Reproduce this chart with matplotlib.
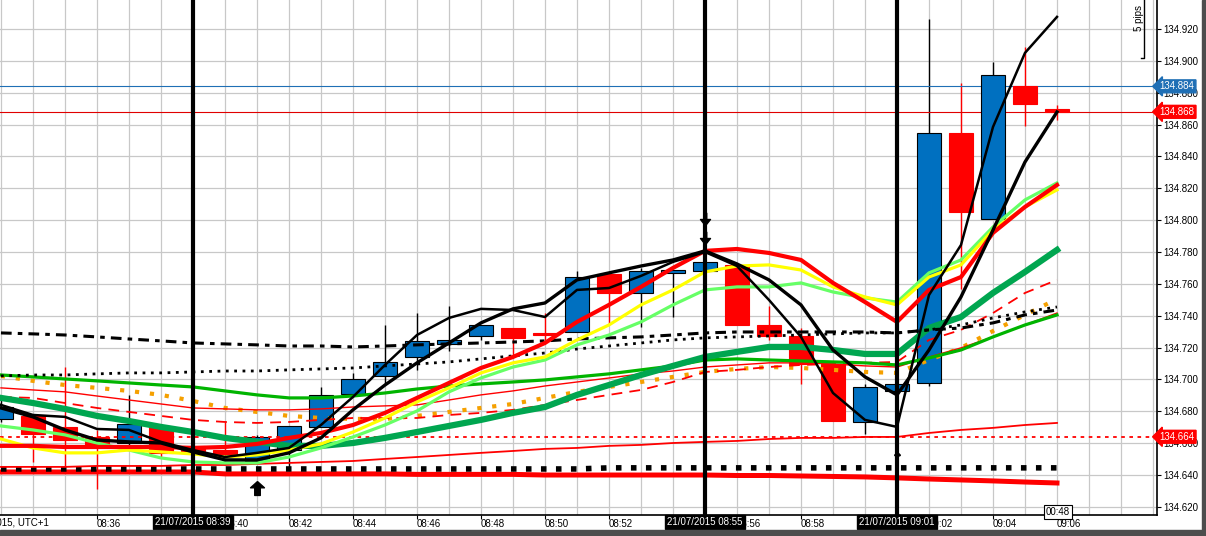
import numpy as np
import matplotlib.pyplot as plt
from matplotlib.patches import Rectangle
import matplotlib.transforms as mtransforms

plt.rcParams['font.family'] = ['Liberation Sans', 'DejaVu Sans']

# minute of the hour (08:33 .. 09:06), one candle per minute
minutes = np.arange(33, 67)

# candles
opens = [134.675, 134.677, 134.670, 134.664, 134.660, 134.670, 134.658, 134.656, 134.649, 134.656,
         134.670, 134.691, 134.702, 134.714, 134.722, 134.727, 134.732, 134.729, 134.730, 134.766,
         134.754, 134.767, 134.768, 134.772, 134.734, 134.727, 134.710, 134.673, 134.693, 134.698,
         134.855, 134.801, 134.884, 134.870]
highs = [134.687, 134.678, 134.708, 134.668, 134.690, 134.671, 134.662, 134.673, 134.665, 134.671,
         134.695, 134.704, 134.734, 134.742, 134.746, 134.734, 134.732, 134.742, 134.768, 134.766,
         134.770, 134.769, 134.776, 134.773, 134.746, 134.732, 134.710, 134.697, 134.698, 134.926,
         134.886, 134.899, 134.909, 134.872]
lows = [134.673, 134.648, 134.645, 134.631, 134.659, 134.651, 134.651, 134.652, 134.648, 134.645,
        134.670, 134.691, 134.697, 134.706, 134.718, 134.725, 134.715, 134.725, 134.730, 134.735,
        134.733, 134.739, 134.767, 134.734, 134.725, 134.697, 134.674, 134.666, 134.684, 134.696,
        134.757, 134.801, 134.859, 134.863]
closes = [134.683, 134.666, 134.662, 134.658, 134.672, 134.654, 134.655, 134.653, 134.664, 134.671,
          134.690, 134.700, 134.711, 134.724, 134.725, 134.734, 134.726, 134.728, 134.764, 134.754,
          134.768, 134.769, 134.774, 134.734, 134.727, 134.710, 134.674, 134.695, 134.697, 134.855,
          134.805, 134.891, 134.873, 134.868]

# indicator lines
fast_black = [134.6840, 134.6777, 134.6765, 134.6689, 134.6683, 134.6608, 134.6557, 134.6513, 134.6539, 134.6570,
              134.6714, 134.6890, 134.7091, 134.7279, 134.7386, 134.7443, 134.7436, 134.7392, 134.7562, 134.7574,
              134.7650, 134.7738, 134.7800, 134.7712, 134.7499, 134.7267, 134.6915, 134.6746, 134.6702, 134.7530,
              134.7844, 134.8585, 134.9050, 134.9276]
slow_black = [134.6821, 134.6765, 134.6683, 134.6620, 134.6608, 134.6601, 134.6545, 134.6495, 134.6495, 134.6539,
              134.6633, 134.6809, 134.6965, 134.7104, 134.7229, 134.7355, 134.7443, 134.7480, 134.7625, 134.7669,
              134.7712, 134.7750, 134.7807, 134.7725, 134.7625, 134.7468, 134.7185, 134.7016, 134.6903, 134.7185,
              134.7518, 134.7938, 134.8365, 134.8679]
red_ema = [134.6583, 134.6583, 134.6576, 134.6576, 134.6576, 134.6576, 134.6570, 134.6576, 134.6595, 134.6633,
           134.6664, 134.6714, 134.6790, 134.6884, 134.6978, 134.7072, 134.7141, 134.7229, 134.7361, 134.7468,
           134.7581, 134.7700, 134.7807, 134.7819, 134.7794, 134.7750, 134.7606, 134.7486, 134.7361, 134.7562,
           134.7643, 134.7920, 134.8083, 134.8221]
yellow_ma = [134.6626, 134.6570, 134.6539, 134.6539, 134.6557, 134.6545, 134.6532, 134.6513, 134.6526, 134.6557,
             134.6595, 134.6670, 134.6758, 134.6859, 134.6947, 134.7041, 134.7104, 134.7141, 134.7248, 134.7342,
             134.7468, 134.7562, 134.7675, 134.7712, 134.7719, 134.7687, 134.7581, 134.7518, 134.7468, 134.7643,
             134.7719, 134.7938, 134.8083, 134.8190]
lime_ma = [134.6708, 134.6683, 134.6652, 134.6601, 134.6557, 134.6507, 134.6482, 134.6476, 134.6476, 134.6513,
           134.6570, 134.6639, 134.6714, 134.6802, 134.6922, 134.7009, 134.7078, 134.7122, 134.7217, 134.7279,
           134.7361, 134.7468, 134.7562, 134.7581, 134.7581, 134.7606, 134.7549, 134.7512, 134.7486, 134.7669,
           134.7750, 134.7957, 134.8127, 134.8234]
dark_green = [134.6884, 134.6852, 134.6815, 134.6771, 134.6739, 134.6702, 134.6670, 134.6633, 134.6608, 134.6583,
              134.6583, 134.6601, 134.6633, 134.6670, 134.6708, 134.6746, 134.6790, 134.6827, 134.6903, 134.6965,
              134.7028, 134.7085, 134.7141, 134.7173, 134.7204, 134.7204, 134.7185, 134.7160, 134.7160, 134.7323,
              134.7392, 134.7543, 134.7675, 134.7813]
mid_green = [134.7028, 134.7016, 134.7003, 134.6991, 134.6978, 134.6965, 134.6953, 134.6928, 134.6903, 134.6884,
             134.6884, 134.6896, 134.6915, 134.6940, 134.6959, 134.6972, 134.6984, 134.6997, 134.7016, 134.7035,
             134.7060, 134.7085, 134.7122, 134.7129, 134.7122, 134.7116, 134.7110, 134.7104, 134.7091, 134.7135,
             134.7185, 134.7267, 134.7342, 134.7405]
orange_ma = [134.7022, 134.6991, 134.6965, 134.6947, 134.6928, 134.6903, 134.6865, 134.6821, 134.6796, 134.6771,
             134.6758, 134.6752, 134.6752, 134.6771, 134.6796, 134.6821, 134.6846, 134.6884, 134.6922, 134.6953,
             134.6984, 134.7016, 134.7047, 134.7066, 134.7078, 134.7072, 134.7060, 134.7047, 134.7041, 134.7122,
             134.7198, 134.7304, 134.7405, 134.7505]
red_thin = [134.6947, 134.6934, 134.6922, 134.6896, 134.6871, 134.6846, 134.6821, 134.6815, 134.6809, 134.6809,
            134.6815, 134.6827, 134.6834, 134.6840, 134.6871, 134.6903, 134.6928, 134.6959, 134.6984, 134.7009,
            134.7035, 134.7053, 134.7078, 134.7091, 134.7104, 134.7104, 134.7097, 134.7085, 134.7078, 134.7141,
            134.7198, 134.7267, 134.7342, 134.7417]
red_dashed = [134.6890, 134.6884, 134.6852, 134.6821, 134.6796, 134.6771, 134.6746, 134.6733, 134.6727, 134.6733,
              134.6746, 134.6758, 134.6758, 134.6758, 134.6777, 134.6790, 134.6809, 134.6840, 134.6871, 134.6903,
              134.6934, 134.6984, 134.7047, 134.7060, 134.7078, 134.7091, 134.7097, 134.7104, 134.7110, 134.7248,
              134.7311, 134.7417, 134.7543, 134.7625]
black_dashdot = [134.7292, 134.7286, 134.7279, 134.7267, 134.7254, 134.7242, 134.7229, 134.7223, 134.7217, 134.7210,
                 134.7210, 134.7204, 134.7210, 134.7217, 134.7223, 134.7229, 134.7235, 134.7242, 134.7254, 134.7261,
                 134.7267, 134.7279, 134.7292, 134.7298, 134.7298, 134.7298, 134.7298, 134.7298, 134.7292, 134.7311,
                 134.7323, 134.7355, 134.7405, 134.7436]
black_dotted = [134.7022, 134.7028, 134.7028, 134.7035, 134.7041, 134.7041, 134.7047, 134.7053, 134.7053, 134.7060,
                134.7066, 134.7072, 134.7085, 134.7097, 134.7110, 134.7129, 134.7148, 134.7166, 134.7191, 134.7210,
                134.7229, 134.7248, 134.7261, 134.7267, 134.7273, 134.7279, 134.7286, 134.7292, 134.7292, 134.7311,
                134.7342, 134.7386, 134.7424, 134.7455]
red_low = [134.6451, 134.6451, 134.6451, 134.6457, 134.6457, 134.6457, 134.6463, 134.6463, 134.6470, 134.6476,
           134.6482, 134.6488, 134.6501, 134.6513, 134.6526, 134.6539, 134.6551, 134.6564, 134.6570, 134.6583,
           134.6589, 134.6601, 134.6608, 134.6614, 134.6626, 134.6633, 134.6633, 134.6639, 134.6639, 134.6664,
           134.6683, 134.6696, 134.6714, 134.6727]
black_bottom = [134.6438, 134.6438, 134.6438, 134.6438, 134.6438, 134.6438, 134.6438, 134.6438, 134.6438, 134.6438,
                134.6438, 134.6438, 134.6438, 134.6438, 134.6438, 134.6438, 134.6438, 134.6438, 134.6438, 134.6445,
                134.6445, 134.6445, 134.6445, 134.6445, 134.6445, 134.6445, 134.6445, 134.6445, 134.6445, 134.6445,
                134.6445, 134.6445, 134.6445, 134.6445]
red_bottom = [134.6419, 134.6419, 134.6419, 134.6419, 134.6419, 134.6419, 134.6419, 134.6407, 134.6407, 134.6407,
              134.6407, 134.6407, 134.6407, 134.6404, 134.6404, 134.6404, 134.6404, 134.6400, 134.6400, 134.6400,
              134.6400, 134.6400, 134.6400, 134.6397, 134.6397, 134.6394, 134.6391, 134.6388, 134.6382, 134.6375,
              134.6369, 134.6363, 134.6356, 134.6350]

# price levels and markers
ask_price = 134.884
bid_price = 134.868
level_price = 134.664
vline_times = [39, 55, 61]
vline_labels = ['21/07/2015 08:39', '21/07/2015 08:55', '21/07/2015 09:01']
sell_times = [55, 55]
sell_prices = [134.801, 134.789]
buy_times = [41]
buy_prices = [134.632]
small_buy_times = [61]
small_buy_prices = [134.651]
tick_minutes = np.arange(36, 67, 2)
tick_labels = ['08:%02d' % m if m < 60 else '09:%02d' % (m - 60) for m in tick_minutes]
price_ticks = [134.62, 134.64, 134.66, 134.68, 134.70, 134.72, 134.74, 134.76, 134.78, 134.80,
               134.82, 134.84, 134.86, 134.88, 134.90, 134.92]

opens, highs, lows, closes = map(np.array, (opens, highs, lows, closes))

fig = plt.figure(figsize=(12.06, 5.36), dpi=100)
ax = fig.add_axes([0, 21 / 536, 1157 / 1206, 515 / 536])
ax.set_xlim(32.97, 69.125)
ax.set_ylim(134.6149, 134.9382)

# grid
ax.set_axisbelow(True)
ax.set_xticks(np.arange(33, 70), minor=True)
ax.set_xticks(tick_minutes)
ax.set_xticklabels(tick_labels)
for lbl in ax.get_xticklabels():
    lbl.set_ha('left')
ax.set_yticks(price_ticks)
ax.set_yticklabels(['%.3f' % p for p in price_ticks])
ax.yaxis.tick_right()
ax.grid(which='both', color='#c8c8c8', lw=0.9)
ax.tick_params(axis='x', which='major', length=3, pad=0, labelsize=7)
ax.tick_params(axis='x', which='minor', length=0)
ax.tick_params(axis='y', length=3, pad=1.5, labelsize=7)
for s in ['left', 'top']:
    ax.spines[s].set_visible(False)
ax.spines['right'].set_linewidth(1.2)
ax.spines['bottom'].set_linewidth(1.2)

# candles
up = closes >= opens
body_col = np.where(up, '#0070c0', '#ff0000')
edge_col = np.where(up, 'black', '#ff0000')
ax.vlines(minutes, lows, highs, colors=np.where(up, 'black', '#ff0000'), lw=1, zorder=2)
ax.bar(minutes, np.maximum(np.abs(closes - opens), 0.0006), bottom=np.minimum(opens, closes),
       width=0.75, color=body_col, edgecolor=edge_col, linewidth=0.8, zorder=3)

# price lines
ax.axhline(ask_price, color='#1f6fb5', lw=0.8, zorder=2)
ax.axhline(bid_price, color='#e00000', lw=0.8, zorder=2)
ax.axhline(level_price, color='#ff0000', lw=1.3, ls=(0, (2, 2.5)), zorder=4)

# indicators
ax.plot(minutes, red_bottom, color='#ff0000', lw=3.6, zorder=4)
ax.plot(minutes, black_bottom, color='black', lw=4, ls=(0, (1, 1.7)), zorder=4)
ax.plot(minutes, red_low, color='#ff0000', lw=1.3, zorder=4)
ax.plot(minutes, orange_ma, color='#f5a000', lw=3, ls=(0, (1, 2.6)), zorder=4)
ax.plot(minutes, red_dashed, color='#ff0000', lw=1.3, ls=(0, (6, 4)), zorder=4)
ax.plot(minutes, red_thin, color='#ff0000', lw=1.0, zorder=4)
ax.plot(minutes, mid_green, color='#00b400', lw=2.3, zorder=4)
ax.plot(minutes, dark_green, color='#00a650', lw=4.5, zorder=4)
ax.plot(minutes, black_dotted, color='black', lw=2.0, ls=(0, (1, 2)), zorder=4)
ax.plot(minutes, black_dashdot, color='black', lw=2.2, ls=(0, (3.5, 2, 1.5, 2)), zorder=4)
ax.plot(minutes, lime_ma, color='#66ff66', lw=2.3, zorder=5)
ax.plot(minutes, yellow_ma, color='#ffff00', lw=2.3, zorder=5)
ax.plot(minutes, red_ema, color='#ff0000', lw=3.0, zorder=5)
ax.plot(minutes, slow_black, color='black', lw=2.4, zorder=6)
ax.plot(minutes, fast_black, color='black', lw=1.8, zorder=6)

for t in vline_times:
    ax.axvline(t, color='black', lw=3, zorder=8)

# signal arrows
up_arrow = [(0, 1), (-1, 0.1), (-0.4, 0.1), (-0.4, -1), (0.4, -1), (0.4, 0.1), (1, 0.1), (0, 1)]
down_arrow = [(0, -1), (-0.8, 0), (-0.2, 0), (-0.2, 1), (0.2, 1), (0.2, 0), (0.8, 0), (0, -1)]
ax.plot(buy_times, buy_prices, ls='none', marker=up_arrow, ms=10, color='black', zorder=9)
ax.plot(sell_times, sell_prices, ls='none', marker=down_arrow, ms=9, color='black', zorder=9)
ax.plot(small_buy_times, small_buy_prices, ls='none', marker=r'$\uparrow$', ms=7, color='black', zorder=9)

# labels below the axis
xt = mtransforms.blended_transform_factory(ax.transData, ax.transAxes)
for t, lab in zip(vline_times, vline_labels):
    ax.text(t, -0.0136, lab, transform=xt, ha='center', va='center', fontsize=7, color='white',
            bbox=dict(boxstyle='square,pad=0.25', fc='black', ec='black'), clip_on=False, zorder=10)
ax.text(34.5, -0.0136, '21/07/2015, UTC+1', transform=xt, ha='right', va='center', fontsize=7,
        clip_on=False)
ax.text(66.03, 0.006, '00:48', transform=xt, ha='center', va='center', fontsize=7,
        bbox=dict(boxstyle='square,pad=0.2', fc='white', ec='black', lw=0.8), clip_on=False, zorder=10)

# price tags on the right axis
yt = mtransforms.blended_transform_factory(ax.transAxes, ax.transData)
for p, c in [(ask_price, '#1f6fb5'), (bid_price, '#ff0000'), (level_price, '#ff0000')]:
    ax.text(1.0173, p, '%.3f' % p, transform=yt, ha='center', va='center', fontsize=7, color='white',
            bbox=dict(boxstyle='larrow,pad=0.15', fc=c, ec=c), clip_on=False, zorder=10)
ax.text(1.004, 134.940, '134.940', transform=yt, ha='left', va='center', fontsize=7, clip_on=False)

# pips ruler
ax.plot([0.9888, 0.9888, 0.9862], [1.0, 0.8874, 0.8874], transform=ax.transAxes, color='black',
        lw=1, clip_on=False, zorder=9)
ax.text(0.9845, 0.965, '5 pips', transform=ax.transAxes, rotation=90, ha='center', va='center',
        fontsize=7)

# dark frame strips
fig.patches.append(Rectangle((0, 0), 1, 6 / 536, transform=fig.transFigure, color='#4d4d4d'))
fig.patches.append(Rectangle((1202 / 1206, 0), 4 / 1206, 1, transform=fig.transFigure, color='#4d4d4d'))

fig.savefig('out.png', dpi=100, facecolor='white')
